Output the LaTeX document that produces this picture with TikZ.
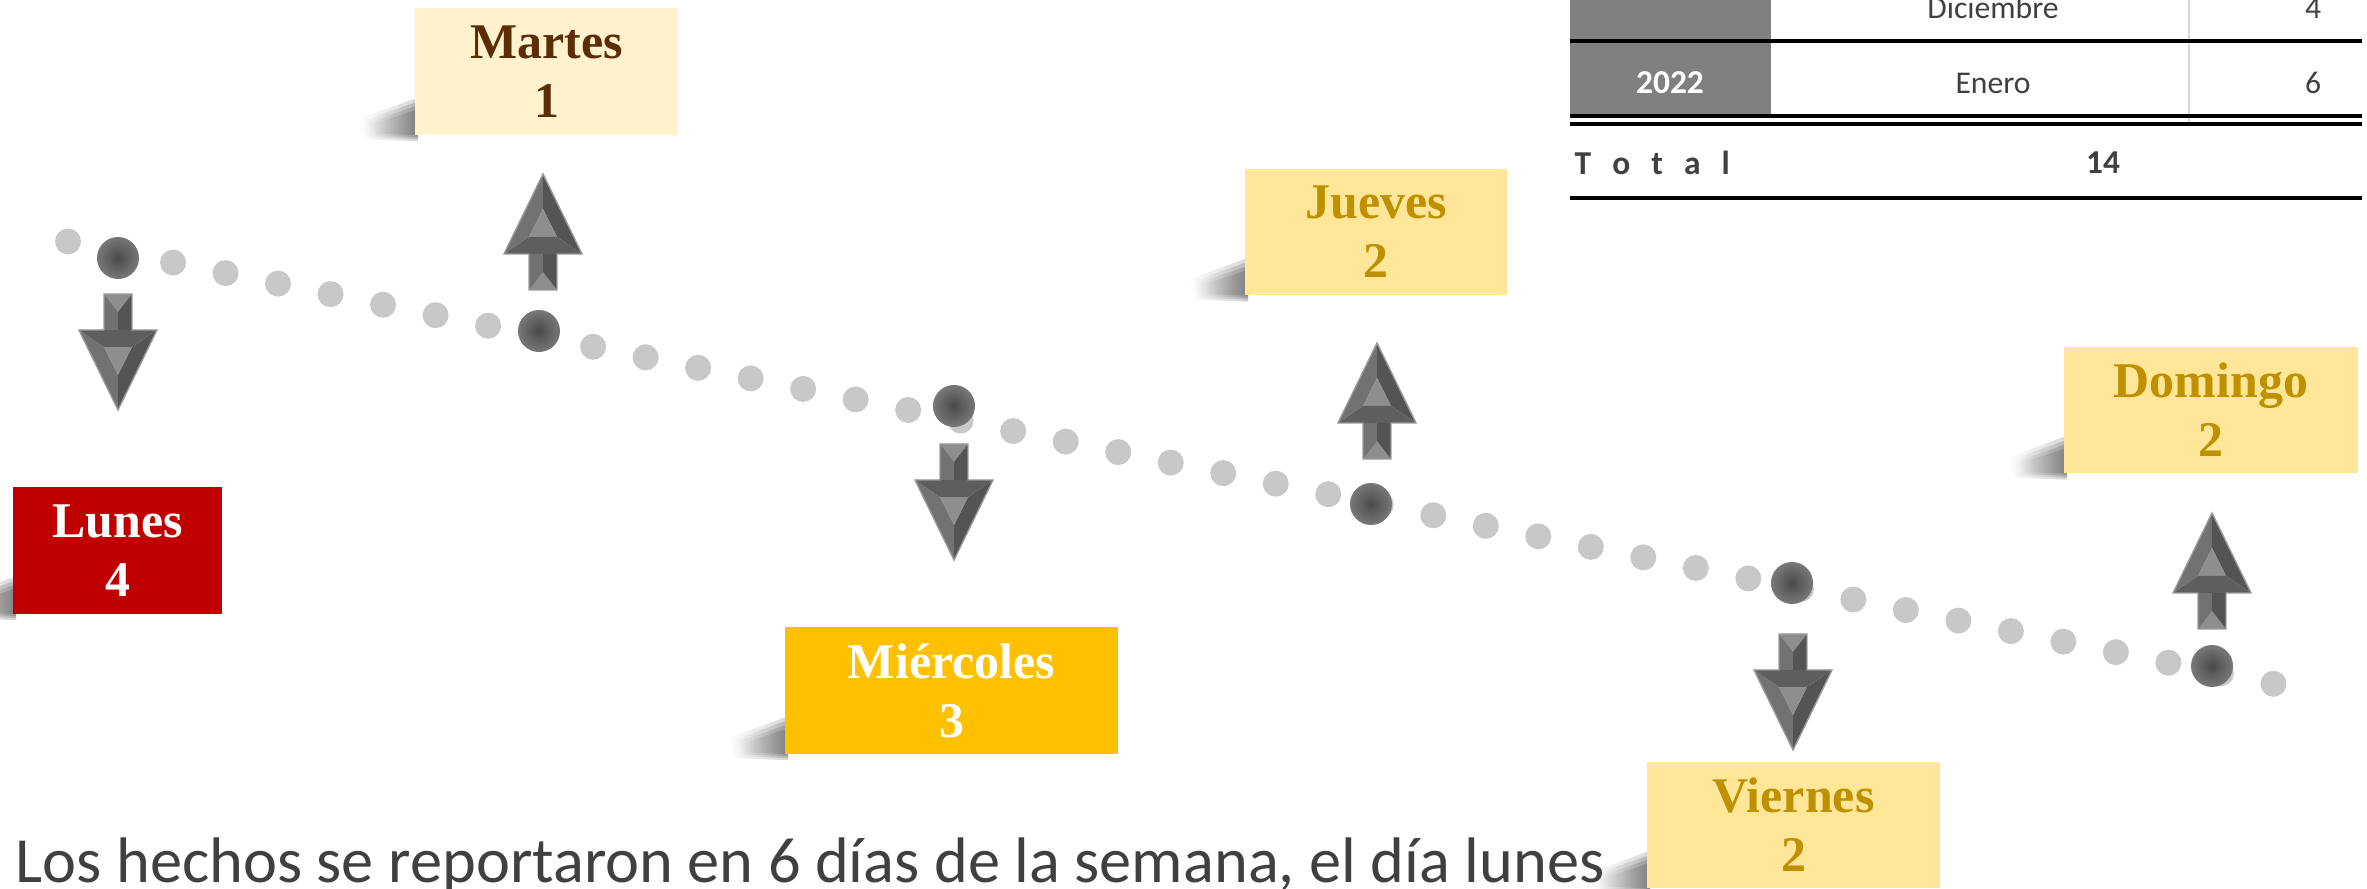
\documentclass[tikz,border=0pt]{standalone}
\usepackage{fontspec}
\usetikzlibrary{fadings}
\newfontfamily\dayfont{Liberation Serif}
\newfontfamily\tabfont{Carlito}

\definecolor{lunesred}{HTML}{C00000}
\definecolor{martesfill}{HTML}{FFF2CC}
\definecolor{martestext}{HTML}{5C2D06}
\definecolor{miercfill}{HTML}{FFC000}
\definecolor{goldfill}{HTML}{FFE699}
\definecolor{goldtext}{HTML}{BF9000}
\definecolor{dotlight}{HTML}{C8C8C8}
\definecolor{dotin}{HTML}{4A4A4A}
\definecolor{dotout}{HTML}{787878}
\definecolor{tabgray}{HTML}{808080}
\definecolor{tabtext}{HTML}{404040}
\definecolor{arrmid}{HTML}{727272}
\definecolor{arrdark}{HTML}{545454}
\definecolor{arrlight}{HTML}{8E8E8E}
\definecolor{arrbase}{HTML}{5E5E5E}

\tikzfading[name=shadowfade, left color=transparent!100, right color=transparent!0]
\pgfdeclarelayer{background}
\pgfsetlayers{background,main}

\tikzset{
  daybox/.style={inner sep=0pt, align=center, minimum height=1.26cm,
    font=\dayfont\bfseries\fontsize{14.2}{16.8}\selectfont},
  tabtxt/.style={inner sep=0pt, text=tabtext, font=\tabfont\fontsize{9}{10}\selectfont},
  tabbold/.style={tabtxt, font=\tabfont\bfseries\fontsize{9.5}{11}\selectfont},
  uparrow/.pic={
    \fill[arrmid] (0,0) -- (-39,80) -- (-14,63) -- (0,35) -- cycle;
    \fill[arrdark] (0,0) -- (39,80) -- (14,63) -- (0,35) -- cycle;
    \fill[arrlight] (0,35) -- (-14,63) -- (14,63) -- cycle;
    \fill[arrbase] (-39,80) -- (39,80) -- (14,63) -- (-14,63) -- cycle;
    \fill[arrmid] (-14,80) rectangle (0,116);
    \fill[arrdark] (0,80) rectangle (14,116);
    \fill[arrlight] (-14,116) -- (14,116) -- (0,98) -- cycle;
    \draw[black!40, line width=0.4pt] (0,0) -- (-39,80) -- (-14,80) -- (-14,116)
      -- (14,116) -- (14,80) -- (39,80) -- cycle;
  }
}

% soft shadow on the lower left of a day box
\newcommand\dayshadow[1]{%
  \foreach \s in {0,4,8,12}{
    \fill[black, opacity=0.16, path fading=shadowfade]
      ([shift={(4,{-38+\s})}]#1.south west)
      -- ([shift={({-56+\s},{-16+\s/2})}]#1.south west)
      -- ([shift={({-50+\s},{4-\s/2})}]#1.south west)
      -- ([shift={(4,{6-\s/2})}]#1.south west) -- cycle;}}

\begin{document}
\begin{tikzpicture}[x=0.01cm, y=-0.01cm]
\useasboundingbox (0,0) rectangle (2367,889);

% dotted trend line
\foreach \k in {0,...,42}
  \fill[dotlight] ({68+52.51*\k},{241.5+10.53*\k}) circle (0.13cm);
\foreach \x/\y in {118/258, 539/331, 954/406, 1371/504, 1792/583, 2212/666}
  \shade[inner color=dotin, outer color=dotout] (\x,\y) circle (0.21cm);

% arrows
\pic[yscale=-1] at (118,410) {uparrow};
\pic at (543,174) {uparrow};
\pic[yscale=-1] at (954,560) {uparrow};
\pic at (1377,343) {uparrow};
\pic[yscale=-1] at (1793,750) {uparrow};
\pic at (2212,513) {uparrow};

% day boxes
\node[daybox, fill=lunesred, text=white, minimum width=2.09cm] (lun) at (117.5,550.5) {Lunes\\4};
\node[daybox, fill=martesfill, text=martestext, minimum width=2.63cm] (mar) at (546.5,71.5) {Martes\\1};
\node[daybox, fill=miercfill, text=white, minimum width=3.33cm] (mie) at (951.5,690.5) {Miércoles\\3};
\node[daybox, fill=goldfill, text=goldtext, minimum width=2.62cm] (jue) at (1376,232) {Jueves\\2};
\node[daybox, fill=goldfill, text=goldtext, minimum width=2.93cm] (vie) at (1793.5,825) {Viernes\\2};
\node[daybox, fill=goldfill, text=goldtext, minimum width=2.94cm] (dom) at (2211,410) {Domingo\\2};

\begin{pgfonlayer}{background}
\foreach \b in {lun,mar,mie,jue,vie,dom}
  \dayshadow{\b};
\end{pgfonlayer}

% table
\fill[tabgray] (1570,0) rectangle (1771,39);
\fill[tabgray] (1570,43) rectangle (1771,118);
\draw[black!15, line width=0.4pt] (2189,0) -- (2189,124);
\draw[line width=1.4pt] (1570,41) -- (2362,41);
\draw[line width=0.9pt] (1570,116) -- (2362,116);
\draw[line width=1pt] (1570,124) -- (2362,124);
\draw[line width=1.4pt] (1570,198) -- (2362,198);

\node[tabtxt] (dic) at (1993,8) {Diciembre};
\node[tabtxt] (dicn) at (2313,8) {4};
\node[tabbold, text=white] (yr) at (1670,83) {2022};
\node[tabtxt] (ene) at (1993,83) {Enero};
\node[tabtxt] (enen) at (2313,83) {6};
\node[tabbold, anchor=west] (tot) at (1574,163) {\makebox[1.55cm][s]{T\hfill o\hfill t\hfill a\hfill l}};
\node[tabbold] (totn) at (2103,163) {14};

% caption line
\node[anchor=base west, inner sep=0pt, text=tabtext, font=\tabfont\fontsize{18.3}{22}\selectfont] (txt) at (15,883) {Los hechos se reportaron en 6 días de la semana, el día lunes};
\end{tikzpicture}
\end{document}
